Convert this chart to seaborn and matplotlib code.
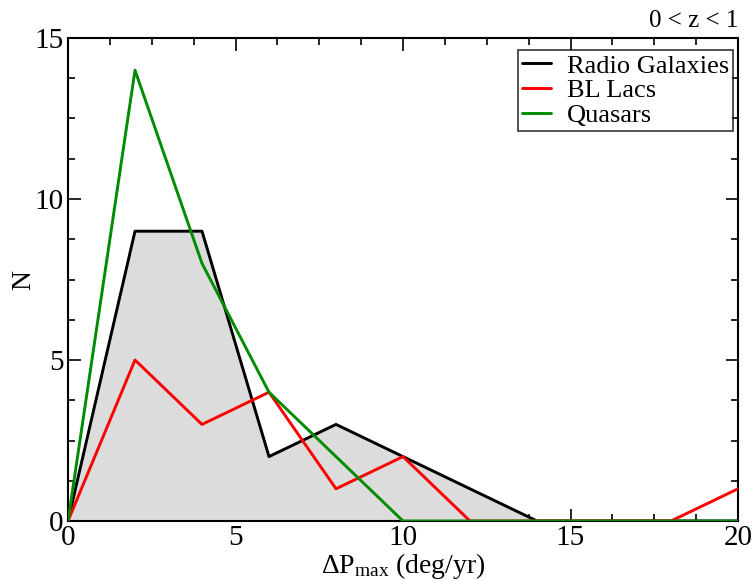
import matplotlib
matplotlib.use("Agg")
import matplotlib.pyplot as plt
import seaborn as sns
import pandas as pd
from matplotlib.ticker import MultipleLocator

x_vals = [0, 2, 4, 6, 8, 10, 12, 14, 16, 18, 20]
radio_galaxies = [0, 9, 9, 2, 3, 2, 1, 0, 0, 0, 0]
bl_lacs = [0, 5, 3, 4, 1, 2, 0, 0, 0, 0, 1]
quasars = [0, 14, 8, 4, 2, 0, 0, 0, 0, 0, 0]
series_names = ["Radio Galaxies", "BL Lacs", "Quasars"]
series_colors = ["#000000", "#ff0000", "#008c00"]

sns.set_style("ticks")
plt.rcParams["font.family"] = ["Liberation Serif", "DejaVu Serif"]
plt.rcParams["mathtext.fontset"] = "custom"
plt.rcParams["mathtext.rm"] = "Liberation Serif"
plt.rcParams["mathtext.it"] = "Liberation Serif:italic"
for k in ["text.color", "axes.labelcolor", "xtick.color", "ytick.color", "axes.edgecolor"]:
    plt.rcParams[k] = "black"

df = pd.DataFrame({
    "x": x_vals * 3,
    "N": radio_galaxies + bl_lacs + quasars,
    "series": sum([[n] * len(x_vals) for n in series_names], []),
})

fig = plt.figure(figsize=(7.53, 5.81), dpi=100)
ax = fig.add_axes([68/753, 1-521/581, (738-68)/753, (521-38)/581])

ax.fill_between(x_vals, radio_galaxies, 0, color="#dcdcdc", zorder=1)
sns.lineplot(data=df, x="x", y="N", hue="series", palette=dict(zip(series_names, series_colors)),
             hue_order=series_names, linewidth=2.1, ax=ax, zorder=3)

ax.set_xlim(0, 20)
ax.set_ylim(0, 15)
ax.xaxis.set_major_locator(MultipleLocator(5))
ax.xaxis.set_minor_locator(MultipleLocator(1.25))
ax.yaxis.set_major_locator(MultipleLocator(5))
ax.yaxis.set_minor_locator(MultipleLocator(1.25))
ax.tick_params(which="both", direction="in", top=True, right=True, labelsize=21, width=1.2)
ax.tick_params(which="major", length=9, pad=3)
ax.tick_params(which="minor", length=5)
for s in ax.spines.values():
    s.set_linewidth(1.5)

ax.set_xlabel(r"$\Delta$P$_{\mathregular{max}}$ (deg/yr)", fontsize=20, labelpad=0)
ax.set_ylabel("N", fontsize=20)
ax.yaxis.set_label_coords(-0.048, 0.5)
ax.text(1.0, 1.012, "0 < z < 1", transform=ax.transAxes, ha="right", va="bottom", fontsize=18)

leg = ax.legend(loc="upper right", bbox_to_anchor=(0.993, 0.975), fontsize=19, frameon=True,
                fancybox=False, edgecolor="black", handlelength=1.1, handletextpad=0.6,
                borderpad=0.15, labelspacing=0.05, borderaxespad=0)
leg.get_frame().set_linewidth(1.2)

fig.savefig("out.png", dpi=100)
